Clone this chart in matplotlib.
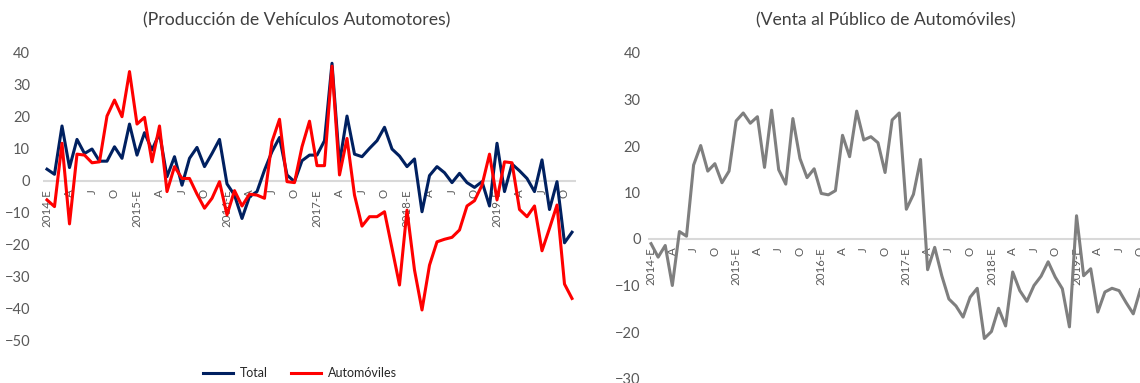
import matplotlib.pyplot as plt

plt.rcParams['font.family'] = ['Lato', 'DejaVu Sans']

# Etiquetas del eje (cada tres meses, enero 2014 - octubre 2019)
etiquetas = ['2014-E', 'A', 'J', 'O', '2015-E', 'A', 'J', 'O',
             '2016-E', 'A', 'J', 'O', '2017-E', 'A', 'J', 'O',
             '2018-E', 'A', 'J', 'O', '2019-E', 'A', 'J', 'O']

# Producción: variación anual (%), enero 2014 - noviembre 2019
total = [3.6, 2.0, 17.1, 4.1, 12.9, 8.5, 9.9, 6.1, 6.1, 10.6, 7.0, 17.7,
         8.0, 15.0, 9.6, 14.8, 1.25, 7.5, -1.4, 7.0, 10.4, 4.4, 8.5, 12.9,
         -1.0, -4.5, -11.8, -5.0, -3.4, 3.3, 9.1, 13.5, 1.8, -0.3, 6.25, 8.0,
         8.0, 12.5, 36.7, 5.4, 20.2, 8.3, 7.5, 10.1, 12.5, 16.7, 9.9, 7.7,
         4.4, 6.8, -9.7, 1.6, 4.4, 2.5, -0.6, 2.3, -0.6, -2.1, -0.3, -7.9,
         11.7, -3.4, 5.2, 3.1, 0.7, -3.4, 6.5, -9.0, -0.3, -19.4, -16.1]
automoviles = [-6.0, -8.1, 11.7, -13.5, 8.3, 8.0, 5.6, 5.9, 20.2, 25.2, 20.0, 34.1,
               17.7, 19.8, 5.9, 17.1, -3.4, 4.4, 0.7, 0.7, -4.2, -8.6, -5.5, -0.3,
               -10.7, -3.1, -7.9, -4.2, -4.5, -5.5, 12.2, 19.2, -0.3, -0.6, 10.6, 18.6,
               4.7, 4.7, 35.8, 1.8, 13.2, -4.5, -14.2, -11.25, -11.25, -9.7, -21.1, -32.6,
               -9.2, -27.9, -40.4, -26.4, -19.1, -18.3, -17.7, -15.4, -7.9, -6.25, -1.4, 8.3,
               -6.0, 5.9, 5.6, -9.0, -11.25, -7.9, -21.9, -14.9, -7.6, -32.3, -36.8]

# Venta al público: variación anual (%), enero 2014 - octubre 2019
ventas = [-1.0, -3.9, -1.4, -10.0, 1.6, 0.6, 15.9, 20.1, 14.6, 16.2, 12.1, 14.6,
          25.4, 27.1, 24.9, 26.3, 15.4, 27.7, 14.9, 11.8, 25.9, 17.3, 13.2, 15.1,
          9.8, 9.5, 10.4, 22.3, 17.7, 27.5, 21.3, 22.0, 20.7, 14.3, 25.6, 27.1,
          6.4, 9.6, 17.1, -6.6, -1.8, -7.9, -12.9, -14.4, -16.8, -12.5, -10.6, -21.4,
          -19.9, -14.9, -18.7, -7.1, -11.1, -13.4, -10.0, -8.0, -4.9, -8.2, -10.7, -18.9,
          5.0, -7.9, -6.4, -15.7, -11.4, -10.6, -11.1, -13.7, -16.1, -10.9]

gris_texto = '#595959'
W, H = 1140, 383

fig = plt.figure(figsize=(11.4, 3.83), dpi=100)


def preparar(ax, ymin, ymax, xmax, pad):
    for s in ax.spines.values():
        s.set_visible(False)
    ax.axhline(0, color='#d9d9d9', lw=1.5, zorder=1)
    ax.set_xlim(-0.5, xmax)
    ax.set_ylim(ymin, ymax)
    ax.set_yticks(range(ymin, ymax + 1, 10))
    ax.tick_params(axis='y', length=0, labelsize=10.5, labelcolor=gris_texto, pad=pad)
    ax.set_xticks([])
    for k, et in enumerate(etiquetas):
        ax.annotate(et, (k * 3, 0), xytext=(0, -6), textcoords='offset points',
                    rotation=90, ha='center', va='top', fontsize=8.3,
                    color=gris_texto, annotation_clip=False)


# Panel izquierdo
ax1 = fig.add_axes([43.25 / W, 1 - 340.7 / H, 532.5 / W, 288 / H])
preparar(ax1, -50, 40, 70.5, 9.5)
ax1.plot(range(len(total)), total, color='#002060', lw=2.2, label='Total', zorder=3)
ax1.plot(range(len(automoviles)), automoviles, color='#ff0000', lw=2.2,
         label='Automóviles', zorder=3)
fig.text(297 / W, 1 - 20 / H, '(Producción de Vehículos Automotores)',
         ha='center', va='center', fontsize=12.7, color='#404040')
fig.legend(loc='center', bbox_to_anchor=(300 / W, 1 - 373 / H), ncol=2,
           frameon=False, fontsize=9, handlelength=2.4, handletextpad=0.6,
           columnspacing=1.8, labelcolor='#262626')

# Panel derecho
ax2 = fig.add_axes([647.5 / W, 1 - 378.5 / H, 496.4 / W, 325.5 / H])
preparar(ax2, -30, 40, 69.5, 5)
ax2.plot(range(len(ventas)), ventas, color='#7f7f7f', lw=2.2, zorder=3)
fig.text(886 / W, 1 - 20 / H, '(Venta al Público de Automóviles)',
         ha='center', va='center', fontsize=12.7, color='#404040')

plt.savefig('out.png', dpi=100)
